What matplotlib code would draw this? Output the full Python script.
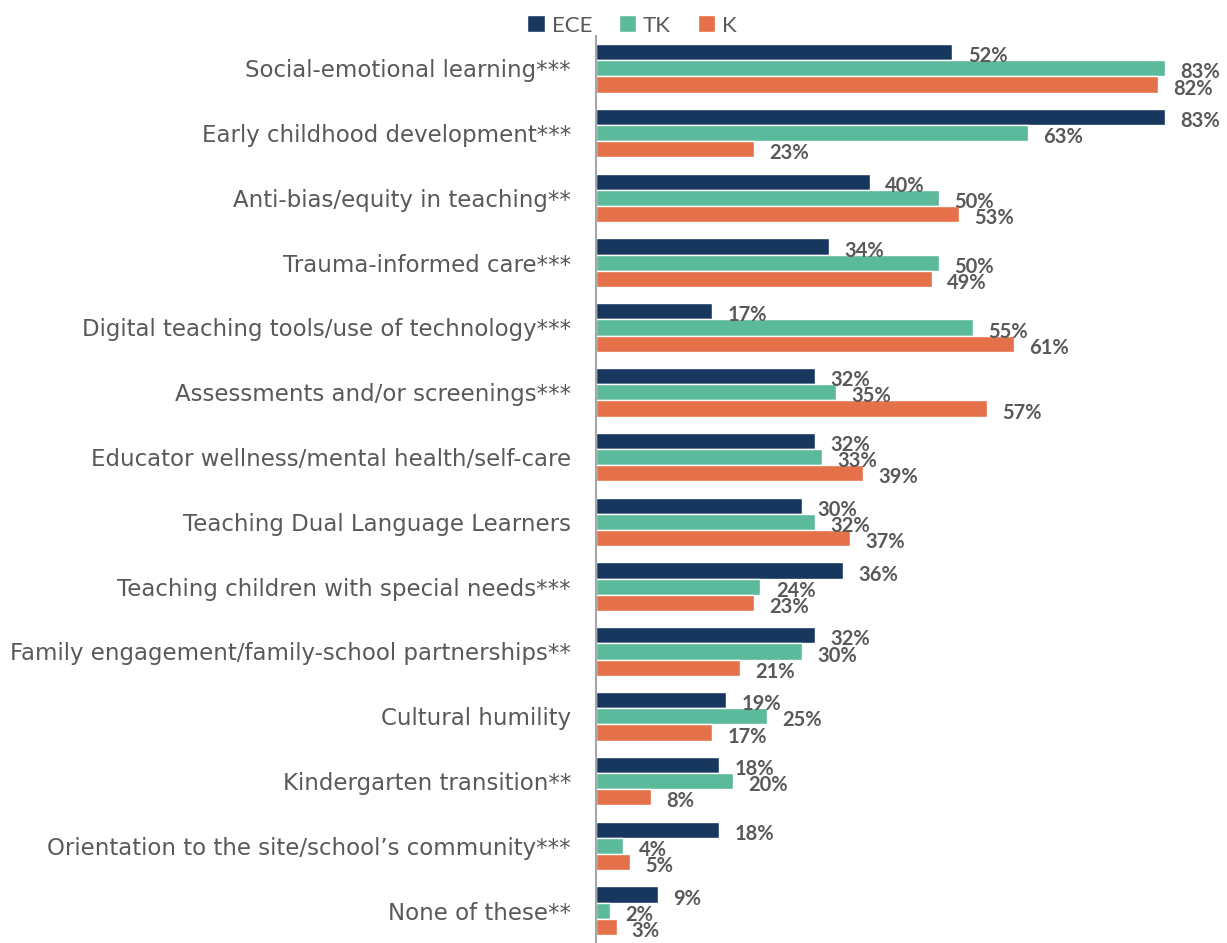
import matplotlib
matplotlib.use("Agg")
import matplotlib.pyplot as plt
import numpy as np

# topics and share of respondents (%) by program
categories = [
    "Social-emotional learning***",
    "Early childhood development***",
    "Anti-bias/equity in teaching**",
    "Trauma-informed care***",
    "Digital teaching tools/use of technology***",
    "Assessments and/or screenings***",
    "Educator wellness/mental health/self-care",
    "Teaching Dual Language Learners",
    "Teaching children with special needs***",
    "Family engagement/family-school partnerships**",
    "Cultural humility",
    "Kindergarten transition**",
    "Orientation to the site/school\u2019s community***",
    "None of these**",
]
ece = [52, 83, 40, 34, 17, 32, 32, 30, 36, 32, 19, 18, 18, 9]
tk = [83, 63, 50, 50, 55, 35, 33, 32, 24, 30, 25, 20, 4, 2]
k = [82, 23, 53, 49, 61, 57, 39, 37, 23, 21, 17, 8, 5, 3]

series = [("ECE", ece, "#17375E"), ("TK", tk, "#5BBA9B"), ("K", k, "#E4714A")]

plt.rcParams['font.family'] = ['Lato', 'DejaVu Sans']

fig = plt.figure(figsize=(12.27, 9.43), dpi=100)
ax = fig.add_axes([0.4857, 0.0, 0.514, 0.962])

y = np.arange(len(categories))
h = 0.25
for i, (name, vals, col) in enumerate(series):
    pos = y + (i - 1) * h
    ax.barh(pos, vals, height=h, color=col, edgecolor="white", linewidth=1, label=name)
    for yy, v in zip(pos, vals):
        ax.annotate(f"{v}%", (v, yy), xytext=(11, -3), textcoords="offset points",
                    ha="left", va="center", fontsize=14.5, fontweight="bold", color="#595959")

ax.set_ylim(len(categories) - 0.5, -0.5)
ax.set_xlim(0, 92)
ax.set_yticks(y)
ax.set_yticklabels(categories, fontsize=16.5, color="#595959", family="DejaVu Sans")
ax.tick_params(axis="y", length=0, pad=18)
ax.set_xticks([])
for s in ["top", "right", "bottom"]:
    ax.spines[s].set_visible(False)
ax.spines["left"].set_color("#A6A6A6")
ax.spines["left"].set_linewidth(1.5)

fig.legend(loc="upper center", bbox_to_anchor=(0.515, 1.005), ncol=3, frameon=False,
           fontsize=16, handlelength=0.8, handleheight=0.8, handletextpad=0.3,
           columnspacing=1.2, labelcolor="#595959")

fig.savefig("out.png", dpi=100)
